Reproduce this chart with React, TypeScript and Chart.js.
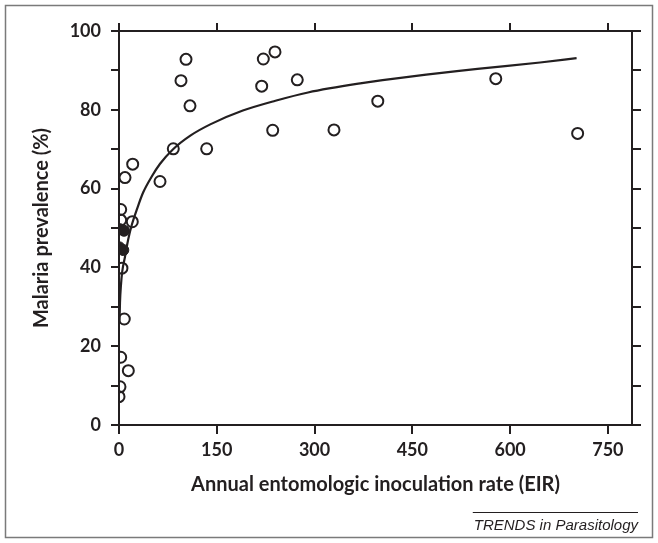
import React, { useEffect, useRef } from 'react';
import { Chart, registerables } from 'chart.js';

Chart.register(...registerables);

// Open circles: annual EIR vs malaria prevalence (%)
const openEIR = [102.8, 95.1, 108.9, 221.4, 239.3, 218.9, 273.5, 235.8, 329.8, 83.3, 134.5, 62.9, 703.6, 397, 578, 21, 9.2, 2.6, 20.4, 2.6, 4.5, 8.1, 2.6, 14.3, 1.5, 0];
const openPrev = [92.8, 87.4, 81.0, 92.9, 94.7, 86.0, 87.6, 74.8, 74.9, 70.1, 70.1, 61.8, 74.0, 82.2, 87.9, 66.2, 62.8, 54.7, 51.6, 52.0, 39.8, 26.9, 17.2, 13.8, 9.7, 7.2];

// Filled circles
const filledEIR = [1.5, 7.7, 0.5, 6.6];
const filledPrev = [49.7, 49.3, 45.1, 44.4];

// Fitted curve
const curveEIR = [0.8, 1.5, 3, 5, 9, 14, 20, 28, 37, 50, 63, 83, 110, 140, 190, 240, 290, 370, 450, 550, 646, 702];
const curvePrev = [26, 31, 35.5, 39, 42.5, 47, 51, 55, 59, 63, 66.3, 70, 73.5, 76.3, 79.8, 82.3, 84.4, 86.7, 88.5, 90.4, 92, 93.1];

const xTickValues = [0, 150, 300, 450, 600, 750];
const yTickValues = [0, 10, 20, 30, 40, 50, 60, 70, 80, 90, 100];
const yLabelledValues = [0, 20, 40, 60, 80, 100];

const xAxisTitle = 'Annual entomologic inoculation rate (EIR)';
const yAxisTitle = 'Malaria prevalence (%)';
const sourceNote = 'TRENDS in Parasitology';

const X_MAX = 787;
const INK = '#231f20';
const FONT = 'Lato, "Open Sans", sans-serif';

const toPoints = (xs: number[], ys: number[]) => xs.map((x, i) => ({ x, y: ys[i] }));

const framePlugin = {
  id: 'frameAndNote',
  afterDraw(chart: any) {
    const ctx = chart.ctx as CanvasRenderingContext2D;
    ctx.save();
    ctx.strokeStyle = '#7a7a7a';
    ctx.lineWidth = 1.5;
    ctx.strokeRect(5.5, 5.5, 647, 532);
    ctx.font = 'italic 15px "Liberation Sans", Arial, sans-serif';
    ctx.fillStyle = INK;
    ctx.textAlign = 'right';
    ctx.textBaseline = 'middle';
    const right = 638;
    ctx.fillText(sourceNote, right, 526);
    const w = ctx.measureText(sourceNote).width;
    ctx.beginPath();
    ctx.lineWidth = 1;
    ctx.strokeStyle = INK;
    ctx.moveTo(right - w - 1, 512.5);
    ctx.lineTo(right, 512.5);
    ctx.stroke();
    ctx.restore();
  },
};

export default function App() {
  const ref = useRef<HTMLCanvasElement | null>(null);

  useEffect(() => {
    if (!ref.current) return;
    const tickFont = { family: FONT, size: 18, weight: 'bold' as const };
    const titleFont = { family: FONT, size: 20, weight: 'bold' as const };
    const chart = new Chart(ref.current, {
      type: 'scatter',
      data: {
        datasets: [
          {
            label: 'fit',
            data: toPoints(curveEIR, curvePrev),
            showLine: true,
            borderColor: INK,
            borderWidth: 2.2,
            pointRadius: 0,
            cubicInterpolationMode: 'monotone',
            fill: false,
          },
          {
            label: 'open',
            data: toPoints(openEIR, openPrev),
            pointRadius: 5.5,
            pointBorderWidth: 2,
            borderColor: INK,
            backgroundColor: 'rgba(255,255,255,0)',
            pointBackgroundColor: 'rgba(255,255,255,0)',
            pointBorderColor: INK,
          },
          {
            label: 'filled',
            data: toPoints(filledEIR, filledPrev),
            pointRadius: 5.5,
            pointBorderWidth: 1,
            borderColor: INK,
            backgroundColor: INK,
            pointBackgroundColor: INK,
            pointBorderColor: INK,
          },
        ],
      },
      options: {
        animation: false,
        responsive: false,
        events: [],
        layout: { padding: 0 },
        plugins: { legend: { display: false }, tooltip: { enabled: false } },
        scales: {
          x: {
            type: 'linear',
            position: 'bottom',
            min: 0,
            max: X_MAX,
            afterBuildTicks: (s: any) => { s.ticks = xTickValues.map((v) => ({ value: v })); },
            afterFit: (s: any) => { s.height = 118; },
            ticks: { font: tickFont, color: INK, padding: 5, maxRotation: 0, autoSkip: false },
            grid: { drawOnChartArea: false, drawTicks: true, tickLength: 9, color: INK, lineWidth: 2 },
            border: { display: true, color: INK, width: 2 },
            title: { display: true, text: xAxisTitle, font: titleFont, color: INK, padding: { top: 0, bottom: 46 } },
          },
          x2: {
            type: 'linear',
            position: 'top',
            min: 0,
            max: X_MAX,
            afterBuildTicks: (s: any) => { s.ticks = xTickValues.map((v) => ({ value: v })); },
            afterFit: (s: any) => { s.height = 31; },
            ticks: { display: false },
            grid: { drawOnChartArea: false, drawTicks: true, tickLength: 8, color: INK, lineWidth: 2 },
            border: { display: true, color: INK, width: 2 },
          },
          y: {
            type: 'linear',
            position: 'left',
            min: 0,
            max: 100,
            afterBuildTicks: (s: any) => { s.ticks = yTickValues.map((v) => ({ value: v })); },
            afterFit: (s: any) => { s.width = 119; },
            ticks: {
              font: tickFont,
              color: INK,
              padding: 10,
              callback: (v: any) => (yLabelledValues.includes(Number(v)) ? String(v) : ''),
            },
            grid: { drawOnChartArea: false, drawTicks: true, tickLength: 8, color: INK, lineWidth: 2 },
            border: { display: true, color: INK, width: 2 },
            title: { display: true, text: yAxisTitle, font: titleFont, color: INK, padding: { top: 30, bottom: 0 } },
          },
          y2: {
            type: 'linear',
            position: 'right',
            min: 0,
            max: 100,
            afterBuildTicks: (s: any) => { s.ticks = yTickValues.map((v) => ({ value: v })); },
            afterFit: (s: any) => { s.width = 26; },
            ticks: { display: false },
            grid: { drawOnChartArea: false, drawTicks: true, tickLength: 9, color: INK, lineWidth: 2 },
            border: { display: true, color: INK, width: 2 },
          },
        },
      },
      plugins: [framePlugin],
    } as any);
    return () => chart.destroy();
  }, []);

  return (
    <div style={{ position: 'fixed', left: 0, top: 0, width: 658, height: 543, background: '#fff' }}>
      <canvas ref={ref} width={658} height={543} style={{ width: 658, height: 543, display: 'block' }} />
    </div>
  );
}
